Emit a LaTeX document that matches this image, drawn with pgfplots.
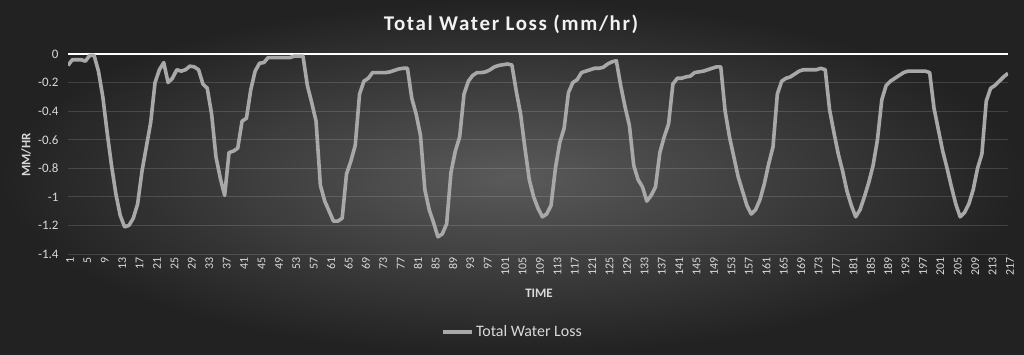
\documentclass[border=0pt]{standalone}
\usepackage{pgfplots}
\pgfplotsset{compat=1.18}
\usepackage{fontspec}
\setmainfont{Carlito}
\definecolor{bgin}{RGB}{90,90,90}
\definecolor{bgout}{RGB}{34,34,34}
\definecolor{ticktxt}{RGB}{217,217,217}
\definecolor{linec}{RGB}{168,168,168}
\begin{document}
\begin{tikzpicture}
\shade[inner color=bgin, outer color=bgout] (0bp,0bp) rectangle (1024bp,355bp);
\begin{axis}[
  at={(68bp,101bp)}, anchor=south west,
  scale only axis, width=940bp, height=200bp,
  xmin=1, xmax=217, ymin=-1.4, ymax=0,
  axis line style={draw=none},
  major tick length=0pt,
  xtick={1,5,...,217},
  ytick={-1.4,-1.2,-1,-0.8,-0.6,-0.4,-0.2,0},
  yticklabels={-1.4,-1.2,-1,-0.8,-0.6,-0.4,-0.2,0},
  ymajorgrids,
  grid style={white, opacity=0.14, line width=1bp},
  /pgf/number format/assume math mode=true,
  yticklabel style={font=\fontsize{13}{14}\selectfont, text=ticktxt, xshift=-6bp},
  xticklabel style={font=\fontsize{12}{13}\selectfont, text=ticktxt, rotate=90, anchor=east, yshift=-2bp},
  extra y ticks={0}, extra y tick labels={},
  extra y tick style={grid style={white, opacity=1, line width=2.8bp}},
  legend style={at={(0.473,-0.39)}, anchor=center, draw=none, fill=none,
    font=\fontsize{16}{17}\selectfont, text=ticktxt},
  legend image code/.code={\draw[#1, line width=3.5bp] (0bp,0bp) -- (29bp,0bp);},
]
\addplot[linec, line width=3.6bp, line join=round] table {
x y
1 -0.08
2 -0.04
3 -0.04
4 -0.04
5 -0.05
6 -0.01
7 -0.01
8 -0.12
9 -0.30
10 -0.55
11 -0.78
12 -0.98
13 -1.13
14 -1.21
15 -1.20
16 -1.15
17 -1.05
18 -0.82
19 -0.65
20 -0.48
21 -0.20
22 -0.11
23 -0.06
24 -0.20
25 -0.17
26 -0.11
27 -0.12
28 -0.11
29 -0.085
30 -0.09
31 -0.11
32 -0.21
33 -0.24
34 -0.42
35 -0.72
36 -0.87
37 -0.99
38 -0.69
39 -0.68
40 -0.66
41 -0.47
42 -0.45
43 -0.25
44 -0.12
45 -0.065
46 -0.06
47 -0.025
48 -0.025
49 -0.025
50 -0.025
51 -0.025
52 -0.025
53 -0.015
54 -0.015
55 -0.015
56 -0.22
57 -0.34
58 -0.47
59 -0.92
60 -1.03
61 -1.10
62 -1.17
63 -1.17
64 -1.15
65 -0.84
66 -0.75
67 -0.64
68 -0.28
69 -0.19
70 -0.17
71 -0.13
72 -0.13
73 -0.13
74 -0.13
75 -0.125
76 -0.115
77 -0.105
78 -0.10
79 -0.10
80 -0.31
81 -0.42
82 -0.57
83 -0.95
84 -1.09
85 -1.18
86 -1.28
87 -1.26
88 -1.19
89 -0.83
90 -0.68
91 -0.58
92 -0.28
93 -0.19
94 -0.15
95 -0.13
96 -0.13
97 -0.125
98 -0.11
99 -0.09
100 -0.08
101 -0.075
102 -0.07
103 -0.077
104 -0.26
105 -0.42
106 -0.66
107 -0.88
108 -1.00
109 -1.08
110 -1.14
111 -1.12
112 -1.06
113 -0.80
114 -0.62
115 -0.52
116 -0.27
117 -0.20
118 -0.18
119 -0.13
120 -0.12
121 -0.11
122 -0.10
123 -0.10
124 -0.093
125 -0.07
126 -0.055
127 -0.047
128 -0.22
129 -0.37
130 -0.50
131 -0.78
132 -0.88
133 -0.93
134 -1.03
135 -0.99
136 -0.93
137 -0.69
138 -0.58
139 -0.49
140 -0.21
141 -0.17
142 -0.17
143 -0.16
144 -0.155
145 -0.13
146 -0.125
147 -0.12
148 -0.11
149 -0.10
150 -0.09
151 -0.09
152 -0.40
153 -0.58
154 -0.72
155 -0.86
156 -0.96
157 -1.06
158 -1.12
159 -1.09
160 -1.02
161 -0.91
162 -0.77
163 -0.65
164 -0.28
165 -0.19
166 -0.17
167 -0.16
168 -0.14
169 -0.12
170 -0.11
171 -0.11
172 -0.11
173 -0.11
174 -0.10
175 -0.11
176 -0.39
177 -0.55
178 -0.70
179 -0.82
180 -0.96
181 -1.06
182 -1.14
183 -1.09
184 -1.00
185 -0.90
186 -0.78
187 -0.60
188 -0.32
189 -0.22
190 -0.19
191 -0.17
192 -0.15
193 -0.13
194 -0.12
195 -0.12
196 -0.12
197 -0.12
198 -0.12
199 -0.13
200 -0.38
201 -0.53
202 -0.68
203 -0.80
204 -0.93
205 -1.05
206 -1.14
207 -1.11
208 -1.05
209 -0.95
210 -0.80
211 -0.70
212 -0.33
213 -0.24
214 -0.22
215 -0.19
216 -0.16
217 -0.135
};
\addlegendentry{Total Water Loss}
\end{axis}
\node[text=white!95!black, font=\fontsize{21}{23}\selectfont\bfseries\addfontfeatures{LetterSpace=8}] at (511bp,331bp) {Total Water Loss (mm/hr)};
\node[text=ticktxt, font=\fontsize{13}{14}\selectfont\bfseries, rotate=90] at (26bp,200bp) {MM/HR};
\node[text=ticktxt, font=\fontsize{13}{14}\selectfont\bfseries] at (539bp,62bp) {TIME};
\pgfresetboundingbox
\useasboundingbox (0bp,0bp) rectangle (1024bp,355bp);
\end{tikzpicture}
\end{document}
